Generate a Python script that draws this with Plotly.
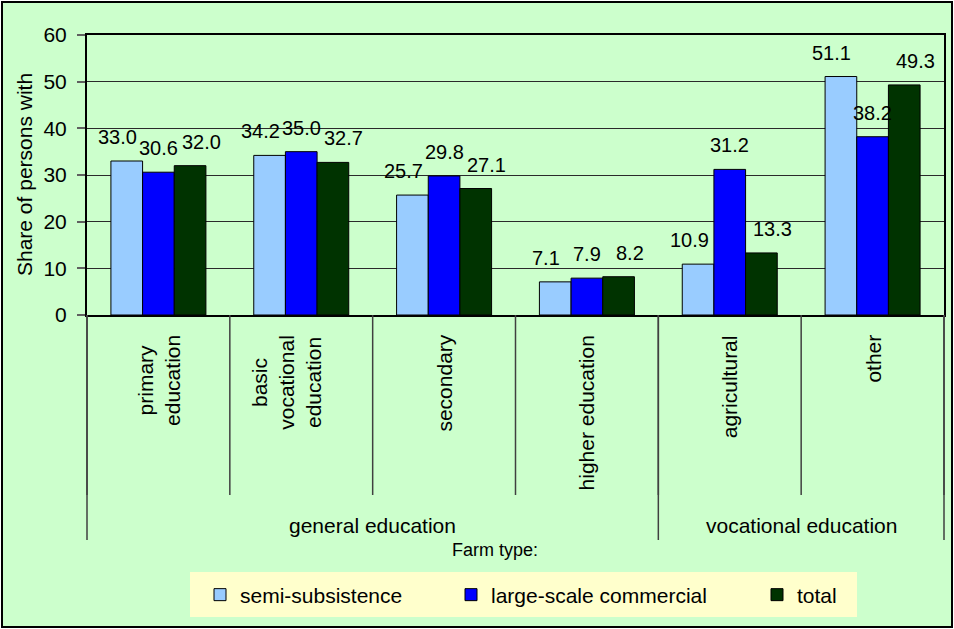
import plotly.graph_objects as go

# ---------------- data ----------------
categories = ["primary<br>education", "basic<br>vocational<br>education", "secondary",
              "higher education", "agricultural", "other"]
group_labels = ["general education", "vocational education"]
group_spans = [(0, 3), (4, 5)]          # first / last category index of each group
series_names = ["semi-subsistence", "large-scale commercial", "total"]
semi_subsistence = [33.0, 34.2, 25.7, 7.1, 10.9, 51.1]
large_scale = [30.6, 35.0, 29.8, 7.9, 31.2, 38.2]
total = [32.0, 32.7, 27.1, 8.2, 13.3, 49.3]
y_ticks = [0, 10, 20, 30, 40, 50, 60]
y_title = "Share of persons with"
x_title = "Farm type:"

# ---------------- style ----------------
FONT = "Liberation Sans, Arial, sans-serif"
colors = ["#99CCFF", "#0000FF", "#003300"]
W, H = 954, 629
L, R, T, B = 87, 10, 35, 314            # plot area 87..944 x 35..315
PW, PH = W - L - R, H - T - B
BARGAP = 0.335
label_xshift = [-9, 0, 11]
cat_xshift = {1: -15}
legend_marker_left = [214, 465, 771]

def px_x(p):  # figure pixel -> paper x
    return (p - L) / PW

def px_y(p):  # figure pixel -> paper y
    return 1 - (p - T) / PH

series = [semi_subsistence, large_scale, total]
n = len(categories)
xs = list(range(n))

fig = go.Figure()
legend_ids = ["legend", "legend2", "legend3"]
for name, vals, col, lid in zip(series_names, series, colors, legend_ids):
    fig.add_trace(go.Bar(x=xs, y=vals, name=name, legend=lid,
                         marker=dict(color=col, line=dict(color="black", width=1))))

annotations = []
bw = (1 - BARGAP) / len(series)
for k, vals in enumerate(series):
    for i, v in enumerate(vals):
        annotations.append(dict(x=i + (k - 1) * bw, y=v, xref="x", yref="y",
                                text=f"{v:.1f}", showarrow=False, yanchor="middle",
                                yshift=24, xshift=label_xshift[k],
                                font=dict(size=20, color="black", family=FONT)))

for i, c in enumerate(categories):
    annotations.append(dict(x=i, y=px_y(333), xref="x", yref="paper", text=c,
                            textangle=-90, showarrow=False, yanchor="top",
                            xanchor="center", xshift=cat_xshift.get(i, 0),
                            font=dict(size=21, color="black", family=FONT)))

for g, (a, b) in zip(group_labels, group_spans):
    annotations.append(dict(x=(a + b) / 2, y=px_y(525), xref="x", yref="paper", text=g,
                            showarrow=False, yanchor="middle",
                            font=dict(size=21, color="black", family=FONT)))

annotations.append(dict(x=px_x(495), y=px_y(550), xref="paper", yref="paper",
                        text=x_title, showarrow=False, yanchor="middle",
                        font=dict(size=18, color="black", family=FONT)))
annotations.append(dict(x=px_x(24), y=0.5, xref="paper", yref="paper",
                        text=y_title, textangle=-90, showarrow=False,
                        xanchor="center", yanchor="middle",
                        font=dict(size=21, color="black", family=FONT)))

shapes = []
# outer border with green fill
shapes.append(dict(type="rect", xref="paper", yref="paper", layer="below",
                   x0=px_x(2), x1=px_x(952), y0=px_y(627), y1=px_y(2),
                   fillcolor="#CCFFCC", line=dict(color="black", width=2)))
# legend background
shapes.append(dict(type="rect", xref="paper", yref="paper", layer="below",
                   x0=px_x(190), x1=px_x(857), y0=px_y(617), y1=px_y(572),
                   fillcolor="#FFFFCC", line=dict(width=0)))
# category separators
for i in range(n + 1):
    shapes.append(dict(type="line", xref="paper", yref="paper",
                       x0=i / n, x1=i / n, y0=0, y1=px_y(495),
                       line=dict(color="#404040", width=1.5)))
# group separators
bounds = sorted(set([a for a, b in group_spans] + [b + 1 for a, b in group_spans]))
for bnd in bounds:
    shapes.append(dict(type="line", xref="paper", yref="paper",
                       x0=bnd / n, x1=bnd / n, y0=0, y1=px_y(540),
                       line=dict(color="#404040", width=1.5)))

legends = {}
for lid, ml in zip(legend_ids, legend_marker_left):
    legends[lid] = dict(orientation="h", x=px_x(ml - 14), xanchor="left",
                        y=px_y(595), yanchor="middle", bgcolor="rgba(0,0,0,0)",
                        font=dict(size=21, family=FONT, color="black"))

fig.update_layout(
    width=W, height=H,
    margin=dict(l=L, r=R, t=T, b=B, autoexpand=False),
    paper_bgcolor="white", plot_bgcolor="#FFFF99",
    barmode="group", bargap=BARGAP, bargroupgap=0,
    font=dict(family=FONT, size=20, color="black"),
    showlegend=True,
    annotations=annotations, shapes=shapes,
    xaxis=dict(range=[-0.5, n - 0.5], showticklabels=False, ticks="",
               showgrid=False, zeroline=False, showline=True, mirror=True,
               linecolor="black", linewidth=2, fixedrange=True),
    yaxis=dict(range=[0, 60], tickvals=y_ticks, ticks="outside", ticklen=8,
               tickcolor="#606060", tickwidth=1.5, showgrid=True,
               gridcolor="#2a2a2a", gridwidth=1, zeroline=False,
               showline=True, mirror=True, linecolor="black", linewidth=2,
               tickfont=dict(size=21, family=FONT, color="black"),
               ticklabelstandoff=6, fixedrange=True),
    **legends,
)

fig.write_html("out.html", config={"displayModeBar": False},
               post_script="document.body.style.margin='0px';")
